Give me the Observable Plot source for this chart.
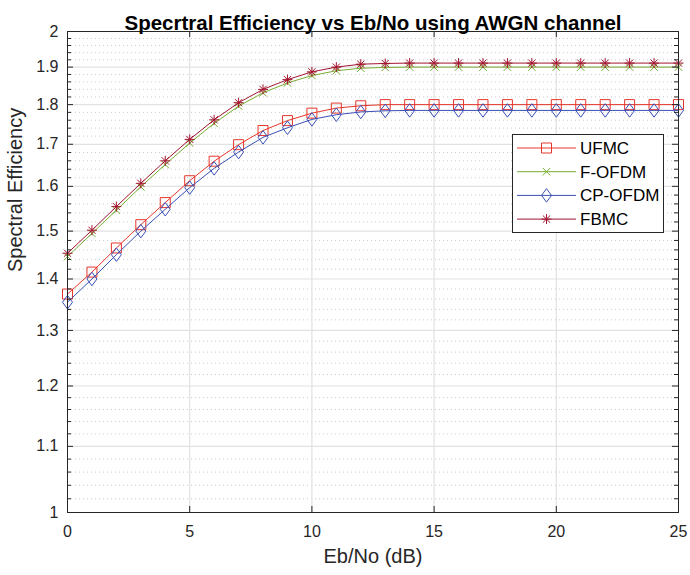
<!DOCTYPE html>
<html>
<head>
<meta charset="utf-8">
<script src="https://cdn.jsdelivr.net/npm/d3@7"></script>
<script src="https://cdn.jsdelivr.net/npm/@observablehq/plot@0.6"></script>
<style>
  html, body { margin: 0; padding: 0; background: #fff; }
  #chart { width: 690px; height: 575px; }
</style>
</head>
<body>
<div id="chart"></div>
<script>
// ---- data ----
const ebno = [0,1,2,3,4,5,6,7,8,9,10,11,12,13,14,15,16,17,18,19,20,21,22,23,24,25];
const ufmc   = [1.370,1.414,1.464,1.514,1.563,1.613,1.659,1.699,1.734,1.759,1.778,1.791,1.797,1.800,1.800,1.800,1.800,1.800,1.800,1.800,1.800,1.800,1.800,1.800,1.800,1.800];
const fofdm  = [1.446,1.495,1.546,1.599,1.651,1.703,1.752,1.796,1.831,1.857,1.877,1.890,1.897,1.899,1.900,1.900,1.900,1.900,1.900,1.900,1.900,1.900,1.900,1.900,1.900,1.900];
const cpofdm = [1.354,1.400,1.450,1.500,1.548,1.597,1.642,1.681,1.717,1.741,1.762,1.774,1.781,1.784,1.785,1.785,1.785,1.785,1.785,1.785,1.785,1.785,1.785,1.785,1.785,1.785];
const fbmc   = [1.453,1.502,1.554,1.607,1.660,1.712,1.761,1.805,1.840,1.866,1.887,1.900,1.908,1.910,1.911,1.911,1.911,1.911,1.911,1.911,1.911,1.911,1.911,1.911,1.911,1.911];
const seriesNames = ["UFMC","F-OFDM","CP-OFDM","FBMC"];
const xTicks = [0,5,10,15,20,25];
const yTicks = [1,1.1,1.2,1.3,1.4,1.5,1.6,1.7,1.8,1.9,2];
const yTickLabels = ["1","1.1","1.2","1.3","1.4","1.5","1.6","1.7","1.8","1.9","2"];
const titleText = "Specrtral Efficiency vs Eb/No using AWGN channel";
const xLabel = "Eb/No (dB)";
const yLabel = "Spectral Efficiency";

// ---- styling ----
const colors = {"UFMC":"#e6362c","F-OFDM":"#77ac30","CP-OFDM":"#3a4fb6","FBMC":"#a2142f"};
const FONT = "'Liberation Sans', Arial, Helvetica, sans-serif";

// minor y ticks every 0.02
const yMinor = d3.range(51).filter(i => i % 5 !== 0).map(i => +(1 + i * 0.02).toFixed(2));

// custom MATLAB-like markers
function rOf(size){ return Math.sqrt(size / Math.PI); }
const symSquare = { draw(c, size){ const r = rOf(size); c.moveTo(-r,-r); c.lineTo(r,-r); c.lineTo(r,r); c.lineTo(-r,r); c.closePath(); } };
const symDiamond = { draw(c, size){ const r = rOf(size); const h = r*1.35; c.moveTo(0,-h); c.lineTo(r,0); c.lineTo(0,h); c.lineTo(-r,0); c.closePath(); } };
const symTimes = { draw(c, size){ const r = rOf(size)*0.75; c.moveTo(-r,-r); c.lineTo(r,r); c.moveTo(-r,r); c.lineTo(r,-r); } };
const symStar = { draw(c, size){ const r = rOf(size); const d = r*0.72; c.moveTo(0,-r); c.lineTo(0,r); c.moveTo(-r,0); c.lineTo(r,0); c.moveTo(-d,-d); c.lineTo(d,d); c.moveTo(-d,d); c.lineTo(d,-d); } };
const symbols = {"UFMC":symSquare,"F-OFDM":symTimes,"CP-OFDM":symDiamond,"FBMC":symStar};

const values = {"UFMC":ufmc,"F-OFDM":fofdm,"CP-OFDM":cpofdm,"FBMC":fbmc};
const rows = seriesNames.map(s => ebno.map((e,i) => ({x:e, y:values[s][i], s})));

const W = 690, H = 575, mL = 67, mR = 12, mT = 31, mB = 63;
const pw = W - mL - mR, ph = H - mT - mB;

const seriesMarks = [];
for (let k = 0; k < seriesNames.length; k++) {
  const s = seriesNames[k];
  seriesMarks.push(Plot.line(rows[k], {x:"x", y:"y", stroke: colors[s], strokeWidth: 1}));
  seriesMarks.push(Plot.dot(rows[k], {x:"x", y:"y", stroke: colors[s], fill: "none", symbol: symbols[s], r: 5, strokeWidth: 1}));
}

const chart = Plot.plot({
  width: W, height: H,
  marginLeft: mL, marginRight: mR, marginTop: mT, marginBottom: mB,
  style: {fontFamily: FONT, fontSize: "16px", background: "#fff", color: "#262626", overflow: "visible"},
  x: {domain: [0,25], label: null},
  y: {type: "log", domain: [1,2], label: null},
  marks: [
    // minor dotted grid
    Plot.ruleY(yMinor, {stroke: "#cccccc", strokeWidth: 1, strokeDasharray: "1,3"}),
    // major grid
    Plot.ruleX(xTicks.slice(1,-1), {stroke: "#e2e2e2", strokeWidth: 1.2}),
    Plot.ruleY(yTicks.slice(1,-1), {stroke: "#e2e2e2", strokeWidth: 1.2}),
    ...seriesMarks,
    // inward ticks
    Plot.tickX(xTicks, {stroke: "#262626", insetTop: ph - 6}),
    Plot.tickX(xTicks, {stroke: "#262626", insetBottom: ph - 6}),
    Plot.tickY(yTicks, {stroke: "#262626", insetRight: pw - 6}),
    Plot.tickY(yTicks, {stroke: "#262626", insetLeft: pw - 6}),
    Plot.tickY(yMinor, {stroke: "#262626", insetRight: pw - 4}),
    Plot.tickY(yMinor, {stroke: "#262626", insetLeft: pw - 4}),
    Plot.frame({stroke: "#262626", strokeWidth: 1}),
    // tick labels
    Plot.axisX(xTicks, {tickSize: 0, tickPadding: 13, label: null, fontSize: 16, fill: "#262626"}),
    Plot.axisY(yTicks, {tickSize: 0, tickPadding: 9, label: null, fontSize: 16, fill: "#262626",
      tickFormat: (d) => yTickLabels[yTicks.indexOf(d)]}),
    // titles
    Plot.text([titleText], {frameAnchor: "top", dy: -16, fontWeight: "bold", fontSize: 20.5, fill: "#000"}),
    Plot.text([xLabel], {frameAnchor: "bottom", dy: 50, fontSize: 20, fill: "#262626"}),
    Plot.text([yLabel], {frameAnchor: "left", dx: -52, rotate: -90, fontSize: 20, fill: "#262626"})
  ]
});

// legend box (drawn on top of the plot svg)
const svg = d3.select(chart);
const lg = svg.append("g").attr("font-family", FONT).attr("font-size", 17).attr("text-anchor", "start");
lg.append("rect").attr("x", 512.5).attr("y", 134.5).attr("width", 151).attr("height", 98)
  .attr("fill", "#fff").attr("stroke", "#262626").attr("stroke-width", 1);
seriesNames.forEach((s, i) => {
  const y = 148 + i * 23.7;
  lg.append("line").attr("x1", 517).attr("x2", 576).attr("y1", y).attr("y2", y)
    .attr("stroke", colors[s]).attr("stroke-width", 1);
  lg.append("path").attr("transform", `translate(546.5,${y})`)
    .attr("d", d3.symbol(symbols[s], 25 * Math.PI)())
    .attr("fill", "none").attr("stroke", colors[s]).attr("stroke-width", 1);
  lg.append("text").attr("x", 580).attr("y", y).attr("dy", "0.35em").attr("text-anchor", "start")
    .attr("fill", "#000").text(s);
});

document.getElementById("chart").appendChild(chart);
</script>
</body>
</html>
